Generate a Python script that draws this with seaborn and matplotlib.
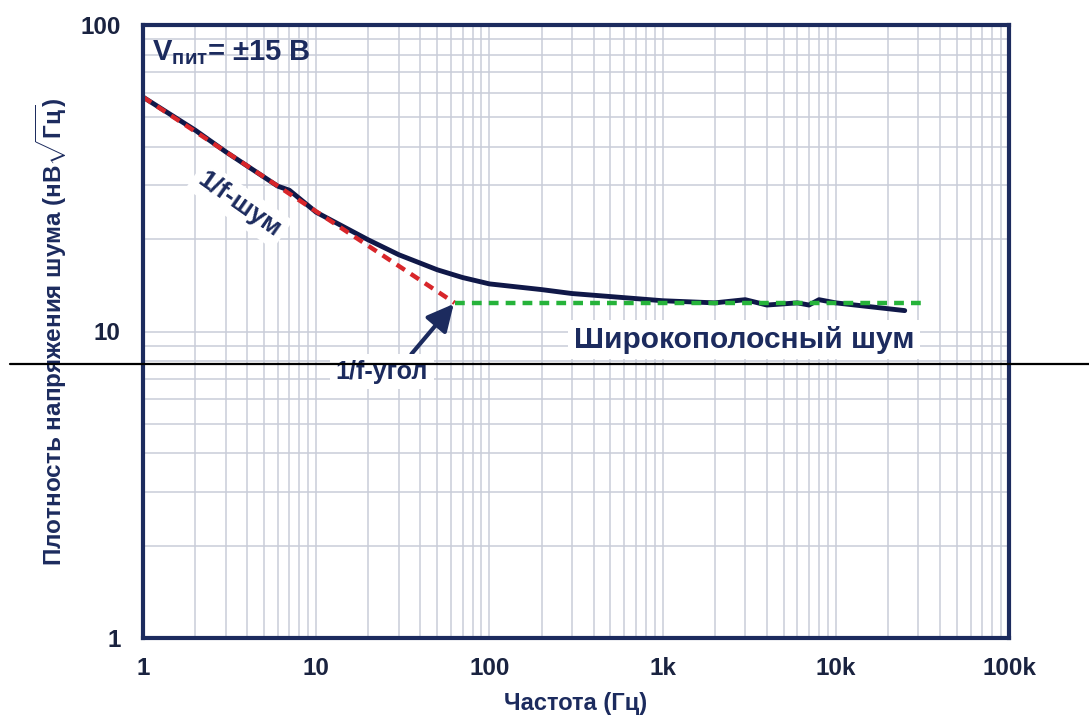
import matplotlib
matplotlib.use("Agg")
import matplotlib.pyplot as plt
from matplotlib.lines import Line2D
from matplotlib.ticker import FixedLocator, FixedFormatter, LogLocator, NullFormatter
import seaborn as sns
import pandas as pd

# Measured noise density of the op-amp
freq_hz = [1, 2, 3, 5, 6, 7, 10, 20, 30, 50, 70, 100, 200, 300, 500,
           1000, 2000, 3000, 4000, 6000, 7000, 8000, 10000, 25000]
noise_nv = [58.2, 45.4, 38.6, 31.9, 29.8, 28.9, 24.5, 19.9, 17.8, 15.9, 15.0, 14.3,
            13.7, 13.3, 13.0, 12.6, 12.4, 12.7, 12.2, 12.4, 12.2, 12.7, 12.4, 11.7]

# Asymptotes: 1/f region and broadband floor
flicker_f = [1, 63]
flicker_v = [58.2, 12.4]
white_f = [63, 31000]
white_v = [12.4, 12.4]
corner_f = 63
corner_v = 12.4

x_ticks = [1, 10, 100, 1000, 10000, 100000]
x_tick_labels = ["1", "10", "100", "1k", "10k", "100k"]
y_ticks = [1, 10, 100]
y_tick_labels = ["1", "10", "100"]

sns.set_theme(style="white")
plt.rcParams["font.family"] = ["Liberation Sans", "DejaVu Sans"]
plt.rcParams["mathtext.fontset"] = "custom"
plt.rcParams["mathtext.rm"] = "Liberation Sans:bold"
plt.rcParams["mathtext.bf"] = "Liberation Sans:bold"

navy = "#1c2b5e"
grid_c = "#c9cdd8"

fig = plt.figure(figsize=(10.89, 7.22), dpi=100)
ax = fig.add_axes([143 / 1089, 1 - 638 / 722, (1009 - 143) / 1089, (638 - 25) / 722])

df = pd.DataFrame({"f": freq_hz, "v": noise_nv})
sns.lineplot(data=df, x="f", y="v", ax=ax, color="#101848", lw=3.5, zorder=4)
sns.lineplot(x=flicker_f, y=flicker_v, ax=ax, color="#d8262a", lw=3.2,
             linestyle=(0, (2.2, 1.6)), zorder=5)
sns.lineplot(x=white_f, y=white_v, ax=ax, color="#26b33a", lw=3.2,
             linestyle=(0, (2.2, 1.6)), zorder=5)

ax.set_xscale("log")
ax.set_yscale("log")
ax.set_xlim(1, 100000)
ax.set_ylim(1, 100)

ax.xaxis.set_major_locator(FixedLocator(x_ticks))
ax.xaxis.set_major_formatter(FixedFormatter(x_tick_labels))
ax.yaxis.set_major_locator(FixedLocator(y_ticks))
ax.yaxis.set_major_formatter(FixedFormatter(y_tick_labels))
ax.xaxis.set_minor_locator(LogLocator(base=10, subs=range(2, 10), numticks=20))
ax.yaxis.set_minor_locator(LogLocator(base=10, subs=range(2, 10), numticks=20))
ax.xaxis.set_minor_formatter(NullFormatter())
ax.yaxis.set_minor_formatter(NullFormatter())

ax.grid(True, which="both", color=grid_c, lw=1.1, zorder=0)
ax.tick_params(axis="x", which="both", length=0, pad=14)
ax.tick_params(axis="y", which="both", length=0, pad=16)
for lbl in ax.get_xticklabels() + ax.get_yticklabels():
    lbl.set_fontsize(17.5)
    lbl.set_fontweight("bold")
    lbl.set_color("#1a2340")

for s in ax.spines.values():
    s.set_color(navy)
    s.set_linewidth(3)
    s.set_zorder(6)

ax.set_xlabel("Частота (Гц)", fontsize=17, fontweight="bold", color=navy, labelpad=8)
ax.set_ylabel(r"Плотность напряжения шума (нВ$\sqrt{\mathbf{Гц}}$)", fontsize=17.5,
              fontweight="bold", color=navy, labelpad=8)

box = dict(facecolor="white", edgecolor="none", pad=4)
ax.text(1.13, 81, r"$\mathbf{V}_{\mathbf{пит}}$= ±15 В", fontsize=21, fontweight="bold",
        color=navy, va="center", ha="left", zorder=7)
ax.text(3.6, 26.0, "1/f-шум", fontsize=19, fontweight="bold", color=navy,
        rotation=-35, ha="center", va="center", bbox=box, zorder=3)
ax.text(2950, 9.4, "Широкополосный шум", fontsize=21.5, fontweight="bold", color=navy,
        ha="center", va="center", bbox=box, zorder=3)
ax.annotate("1/f-угол", xy=(corner_f, corner_v), xytext=(24, 7.4),
            fontsize=18, fontweight="bold", color=navy, ha="center", va="center",
            bbox=box, zorder=7,
            arrowprops=dict(arrowstyle="-|>,head_length=0.9,head_width=0.45",
                            color=navy, lw=3, shrinkA=0, shrinkB=1,
                            relpos=(0.8, 1.15)))

fig.add_artist(Line2D([10 / 1089, 1.0], [1 - 364 / 722, 1 - 364 / 722],
                      transform=fig.transFigure, color="black", lw=1.6, zorder=10))

fig.savefig("out.png", dpi=100)
